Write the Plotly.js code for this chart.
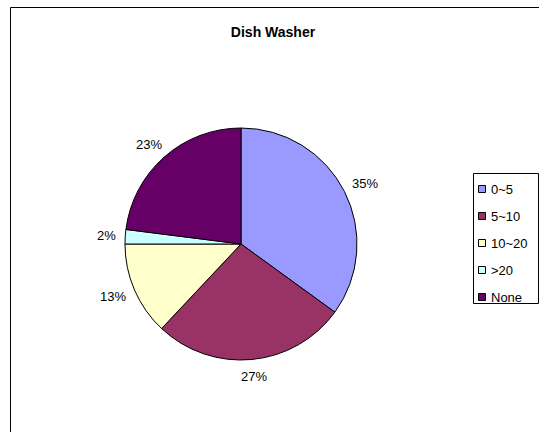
<!DOCTYPE html>
<html>
<head>
<meta charset="utf-8">
<script src="https://cdn.plot.ly/plotly-3.0.1.min.js"></script>
<style>html,body{margin:0;padding:0;background:#fff;}#chart{width:539px;height:432px;}</style>
</head>
<body>
<div id="chart"></div>
<script>
var categories = ['0~5', '5~10', '10~20', '>20', 'None'];
var values = [35, 27, 13, 2, 23];
var colors = ['#9999FF', '#993366', '#FFFFCC', '#CCFFFF', '#660066'];
var chartTitle = 'Dish Washer';

var W = 539, H = 432;
var FONT = '"Liberation Sans", Arial, sans-serif';
function px(x) { return x / W; }
function py(y) { return 1 - y / H; }

var cx = 241, cy = 244, R = 116;

var total = values.reduce(function (a, b) { return a + b; }, 0);
var annotations = [];
var cum = 0;
values.forEach(function (v, i) {
  var mid = (cum + v / 2) / total * 2 * Math.PI;
  cum += v;
  var ux = Math.sin(mid), uy = -Math.cos(mid);
  var txt = Math.round(v / total * 100) + '%';
  var w = txt.length * 8, h = 12, gap = 11;
  var lx = cx + (R + gap) * ux + ux * w / 2;
  var ly = cy + (R + gap) * uy + uy * h / 2;
  annotations.push({
    text: txt, x: px(lx), y: py(ly), xref: 'paper', yref: 'paper',
    xanchor: 'center', yanchor: 'middle', showarrow: false,
    font: {family: FONT, size: 13, color: '#000'}
  });
});

var shapes = [];
// chart frame
shapes.push({type: 'rect', xref: 'paper', yref: 'paper',
  x0: px(10.5), x1: px(560), y0: py(450), y1: py(7.5),
  line: {color: '#000', width: 1}, fillcolor: 'rgba(0,0,0,0)'});
// legend box
shapes.push({type: 'rect', xref: 'paper', yref: 'paper',
  x0: px(473.5), x1: px(538.5), y0: py(303.5), y1: py(173.5),
  line: {color: '#000', width: 1}, fillcolor: 'rgba(0,0,0,0)'});
categories.forEach(function (c, i) {
  var yc = 189 + i * 27;
  shapes.push({type: 'rect', xref: 'paper', yref: 'paper',
    x0: px(478.5), x1: px(485.5), y0: py(yc + 3.5), y1: py(yc - 3.5),
    line: {color: '#000', width: 1}, fillcolor: colors[i]});
  annotations.push({
    text: c, x: px(489), y: py(yc), xref: 'paper', yref: 'paper',
    xanchor: 'left', yanchor: 'middle', showarrow: false,
    font: {family: FONT, size: 13, color: '#000'}
  });
});

var trace = {
  type: 'pie',
  labels: categories,
  values: values,
  sort: false,
  direction: 'clockwise',
  rotation: 0,
  textinfo: 'none',
  hoverinfo: 'label+percent',
  marker: {colors: colors, line: {color: '#000', width: 1}},
  domain: {x: [px(cx - R), px(cx + R)], y: [py(cy + R), py(cy - R)]},
  showlegend: false
};

var layout = {
  width: W, height: H,
  margin: {l: 0, r: 0, t: 0, b: 0},
  paper_bgcolor: '#fff',
  showlegend: false,
  title: {text: '<b>' + chartTitle + '</b>', x: px(273), y: py(32),
    xref: 'paper', yref: 'container', xanchor: 'center', yanchor: 'middle',
    font: {family: FONT, size: 14, color: '#000'}},
  shapes: shapes,
  annotations: annotations
};

Plotly.newPlot('chart', [trace], layout, {displayModeBar: false, staticPlot: true});
</script>
</body>
</html>
